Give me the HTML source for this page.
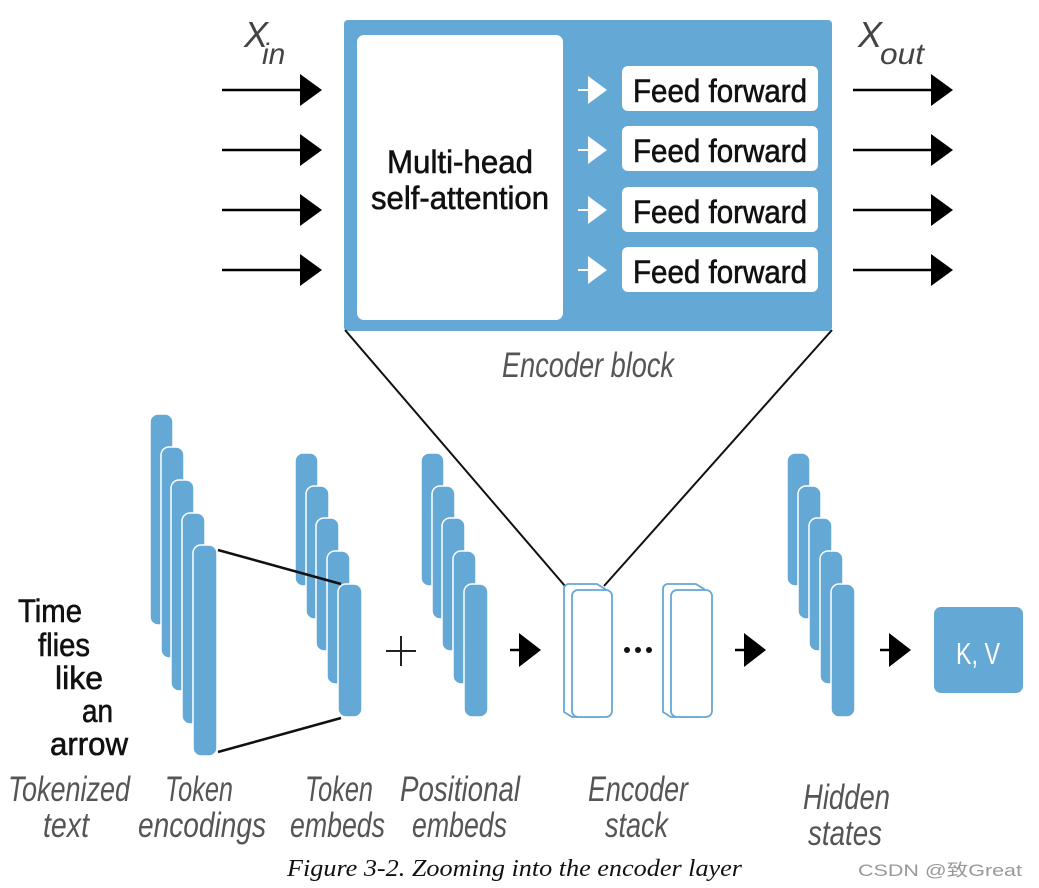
<!DOCTYPE html>
<html><head><meta charset="utf-8"><style>
html,body{margin:0;padding:0;background:#fff;width:1039px;height:888px;overflow:hidden}
svg text{font-family:"Liberation Sans",sans-serif}
.lab{font-style:italic;fill:#555;font-size:35px}
.tk{font-size:32px;fill:#111;stroke:#111;stroke-width:0.6}
.bx{stroke:#111;stroke-width:0.6}
</style></head><body>
<svg width="1039" height="888" viewBox="0 0 1039 888" xmlns="http://www.w3.org/2000/svg">
<defs>
<g id="ar"><line x1="0" y1="0" x2="84" y2="0" stroke="#000" stroke-width="2.5"/><polygon points="78,-16 100,0 78,16" fill="#000"/></g>
<g id="war"><line x1="0" y1="0" x2="13" y2="0" stroke="#fff" stroke-width="2"/><polygon points="10,-14 29,0 10,14" fill="#fff"/></g>
<g id="sar"><line x1="0" y1="0" x2="14" y2="0" stroke="#000" stroke-width="2.5"/><polygon points="9,-17 31,0 9,17" fill="#000"/></g>
</defs>
<rect x="344" y="20" width="488" height="311" rx="4" fill="#64a8d6"/>
<rect x="357" y="35" width="206" height="285" rx="7" fill="#fff"/>
<text class="bx" x="460" y="173" text-anchor="middle" font-size="32" fill="#111" textLength="146" lengthAdjust="spacingAndGlyphs">Multi-head</text>
<text class="bx" x="460" y="209" text-anchor="middle" font-size="32" fill="#111" textLength="178" lengthAdjust="spacingAndGlyphs">self-attention</text>
<rect x="622" y="66" width="196" height="45" rx="6" fill="#fff"/>
<rect x="622" y="126" width="196" height="45" rx="6" fill="#fff"/>
<rect x="622" y="187" width="196" height="45" rx="6" fill="#fff"/>
<rect x="622" y="247" width="196" height="45" rx="6" fill="#fff"/>
<text class="bx" x="720" y="102" text-anchor="middle" font-size="32" fill="#111" textLength="174" lengthAdjust="spacingAndGlyphs">Feed forward</text>
<text class="bx" x="720" y="162" text-anchor="middle" font-size="32" fill="#111" textLength="174" lengthAdjust="spacingAndGlyphs">Feed forward</text>
<text class="bx" x="720" y="223" text-anchor="middle" font-size="32" fill="#111" textLength="174" lengthAdjust="spacingAndGlyphs">Feed forward</text>
<text class="bx" x="720" y="283" text-anchor="middle" font-size="32" fill="#111" textLength="174" lengthAdjust="spacingAndGlyphs">Feed forward</text>
<use href="#war" x="578" y="90"/><use href="#war" x="578" y="150"/><use href="#war" x="578" y="210"/><use href="#war" x="578" y="270"/>
<use href="#ar" x="222" y="90"/><use href="#ar" x="222" y="150"/><use href="#ar" x="222" y="210"/><use href="#ar" x="222" y="270"/>
<use href="#ar" x="853" y="90"/><use href="#ar" x="853" y="150"/><use href="#ar" x="853" y="210"/><use href="#ar" x="853" y="270"/>
<text x="244" y="47" font-size="36" font-style="italic" fill="#444">X</text>
<text x="262" y="64" font-size="30" font-style="italic" fill="#444">in</text>
<text x="858" y="47" font-size="36" font-style="italic" fill="#444">X</text>
<text x="880" y="64" font-size="30" font-style="italic" fill="#444" textLength="44" lengthAdjust="spacingAndGlyphs">out</text>
<text x="588" y="377" text-anchor="middle" class="lab" font-size="33" textLength="172" lengthAdjust="spacingAndGlyphs">Encoder block</text>
<line x1="345" y1="330" x2="565" y2="586" stroke="#111" stroke-width="2"/>
<line x1="832" y1="330" x2="604" y2="586" stroke="#111" stroke-width="2"/>
<g fill="#64a8d6" stroke="#fff" stroke-width="1.5">
<rect x="150" y="414" width="23" height="211" rx="8"/>
<rect x="161" y="447" width="23" height="211" rx="8"/>
<rect x="171" y="480" width="23" height="211" rx="8"/>
<rect x="182" y="513" width="23" height="211" rx="8"/>
<rect x="193" y="545" width="24" height="211" rx="8"/>
<rect x="295" y="453" width="23" height="133" rx="8"/>
<rect x="306" y="486" width="23" height="133" rx="8"/>
<rect x="316" y="518" width="23" height="133" rx="8"/>
<rect x="327" y="551" width="23" height="133" rx="8"/>
<rect x="338" y="584" width="24" height="133" rx="8"/>
<rect x="421" y="453" width="23" height="133" rx="8"/>
<rect x="432" y="486" width="23" height="133" rx="8"/>
<rect x="442" y="518" width="23" height="133" rx="8"/>
<rect x="453" y="551" width="23" height="133" rx="8"/>
<rect x="464" y="584" width="24" height="133" rx="8"/>
<rect x="787" y="453" width="23" height="133" rx="8"/>
<rect x="798" y="486" width="23" height="133" rx="8"/>
<rect x="809" y="518" width="23" height="133" rx="8"/>
<rect x="820" y="551" width="23" height="133" rx="8"/>
<rect x="831" y="584" width="24" height="133" rx="8"/>
</g>
<line x1="218" y1="550" x2="341" y2="584" stroke="#111" stroke-width="2.5"/>
<line x1="218" y1="752" x2="341" y2="718" stroke="#111" stroke-width="2.5"/>
<line x1="386" y1="651" x2="416" y2="651" stroke="#222" stroke-width="2"/>
<line x1="401" y1="636" x2="401" y2="666" stroke="#222" stroke-width="2"/>
<use href="#sar" x="510" y="650"/>
<use href="#sar" x="735" y="650"/>
<use href="#sar" x="880" y="650"/>
<g fill="#fff" stroke="#64a8d6" stroke-width="1.8">
<path d="M570 584 h27 l8 5 v123 a5 5 0 0 1 -5 5 h-28 l-8 -5 v-123 a5 5 0 0 1 6 -5z"/>
<rect x="572" y="590" width="40" height="127" rx="6"/>
<path d="M669 584 h27 l8 5 v123 a5 5 0 0 1 -5 5 h-28 l-8 -5 v-123 a5 5 0 0 1 6 -5z"/>
<rect x="671" y="590" width="41" height="127" rx="6"/>
</g>
<circle cx="627" cy="650" r="3" fill="#111"/><circle cx="638" cy="650" r="3" fill="#111"/><circle cx="649" cy="650" r="3" fill="#111"/>
<rect x="934" y="607" width="89" height="86" rx="7" fill="#64a8d6"/>
<text x="978" y="664" text-anchor="middle" font-size="31" fill="#fff" textLength="44" lengthAdjust="spacingAndGlyphs">K, V</text>
<text class="tk" x="18" y="622" textLength="64" lengthAdjust="spacingAndGlyphs">Time</text>
<text class="tk" x="38" y="656" textLength="52" lengthAdjust="spacingAndGlyphs">flies</text>
<text class="tk" x="55" y="689" textLength="48" lengthAdjust="spacingAndGlyphs">like</text>
<text class="tk" x="82" y="722" textLength="31" lengthAdjust="spacingAndGlyphs">an</text>
<text class="tk" x="50" y="755" textLength="78" lengthAdjust="spacingAndGlyphs">arrow</text>
<text class="lab" x="8" y="801" textLength="122" lengthAdjust="spacingAndGlyphs">Tokenized</text>
<text class="lab" x="43" y="837" textLength="46" lengthAdjust="spacingAndGlyphs">text</text>
<text class="lab" x="165" y="801" textLength="68" lengthAdjust="spacingAndGlyphs">Token</text>
<text class="lab" x="138" y="837" textLength="128" lengthAdjust="spacingAndGlyphs">encodings</text>
<text class="lab" x="305" y="801" textLength="68" lengthAdjust="spacingAndGlyphs">Token</text>
<text class="lab" x="290" y="837" textLength="95" lengthAdjust="spacingAndGlyphs">embeds</text>
<text class="lab" x="400" y="801" textLength="120" lengthAdjust="spacingAndGlyphs">Positional</text>
<text class="lab" x="412" y="837" textLength="95" lengthAdjust="spacingAndGlyphs">embeds</text>
<text class="lab" x="588" y="801" textLength="100" lengthAdjust="spacingAndGlyphs">Encoder</text>
<text class="lab" x="605" y="837" textLength="63" lengthAdjust="spacingAndGlyphs">stack</text>
<text class="lab" x="803" y="809" textLength="87" lengthAdjust="spacingAndGlyphs">Hidden</text>
<text class="lab" x="808" y="845" textLength="74" lengthAdjust="spacingAndGlyphs">states</text>
<text x="287" y="876" font-style="italic" font-size="24" fill="#111" textLength="455" lengthAdjust="spacingAndGlyphs" style="font-family:'Liberation Serif',serif">Figure 3-2. Zooming into the encoder layer</text>
<text x="858" y="876" font-size="17" fill="#999" style="font-family:'Liberation Sans','Noto Sans CJK SC',sans-serif" textLength="164" lengthAdjust="spacingAndGlyphs">CSDN @致Great</text>
</svg>
</body></html>
